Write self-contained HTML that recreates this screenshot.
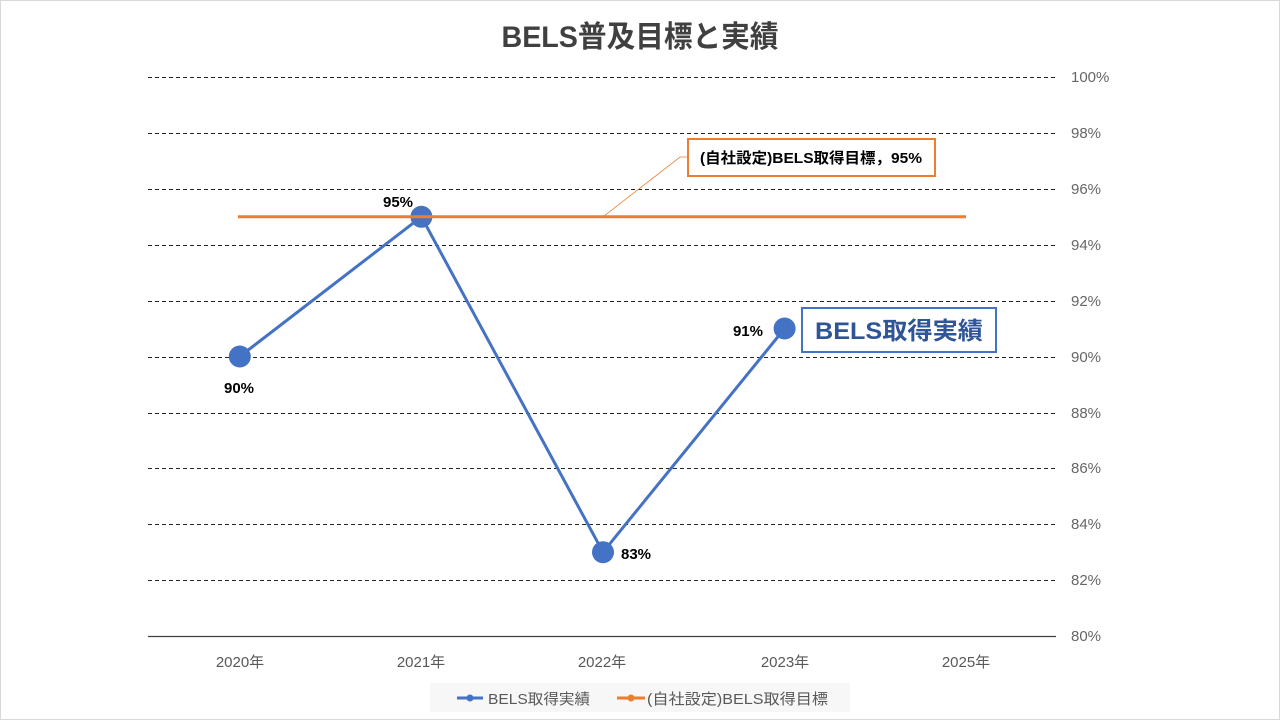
<!DOCTYPE html>
<html>
<head>
<meta charset="utf-8">
<style>
  html,body{margin:0;padding:0;background:#fff;}
  svg{display:block;}
  text{font-family:"Liberation Sans","Noto Sans CJK JP",sans-serif;}
</style>
</head>
<body>
<svg width="1280" height="720" viewBox="0 0 1280 720" xmlns="http://www.w3.org/2000/svg">
  <rect x="0.5" y="0.5" width="1279" height="719" fill="#fff" stroke="#d9d9d9" stroke-width="1"/>
  <!-- Title -->
  <text x="640" y="47" text-anchor="middle" font-size="30" font-weight="bold" fill="#404040" textLength="277" lengthAdjust="spacingAndGlyphs">BELS普及目標と実績</text>

  <!-- Gridlines -->
  <g stroke="#262626" stroke-width="1" stroke-dasharray="4,3">
    <line x1="148" y1="77.5" x2="1056" y2="77.5"/>
    <line x1="148" y1="133.5" x2="1056" y2="133.5"/>
    <line x1="148" y1="189.5" x2="1056" y2="189.5"/>
    <line x1="148" y1="245.5" x2="1056" y2="245.5"/>
    <line x1="148" y1="301.5" x2="1056" y2="301.5"/>
    <line x1="148" y1="357.5" x2="1056" y2="357.5"/>
    <line x1="148" y1="413.5" x2="1056" y2="413.5"/>
    <line x1="148" y1="468.5" x2="1056" y2="468.5"/>
    <line x1="148" y1="524.5" x2="1056" y2="524.5"/>
    <line x1="148" y1="580.5" x2="1056" y2="580.5"/>
  </g>
  <line x1="148" y1="636.5" x2="1056" y2="636.5" stroke="#404040" stroke-width="1.3"/>

  <!-- Y labels -->
  <g font-size="15" fill="#666">
    <text x="1071" y="82">100%</text>
    <text x="1071" y="138">98%</text>
    <text x="1071" y="194">96%</text>
    <text x="1071" y="250">94%</text>
    <text x="1071" y="306">92%</text>
    <text x="1071" y="362">90%</text>
    <text x="1071" y="418">88%</text>
    <text x="1071" y="473">86%</text>
    <text x="1071" y="529">84%</text>
    <text x="1071" y="585">82%</text>
    <text x="1071" y="641">80%</text>
  </g>

  <!-- X labels -->
  <g font-size="15" fill="#595959" text-anchor="middle">
    <text x="240" y="667">2020年</text>
    <text x="421" y="667">2021年</text>
    <text x="602" y="667">2022年</text>
    <text x="785" y="667">2023年</text>
    <text x="966" y="667">2025年</text>
  </g>

  <!-- Blue series -->
  <polyline points="239.8,356.5 421.4,216.8 603,552.2 784.6,328.5" fill="none" stroke="#4472c4" stroke-width="3" stroke-linejoin="round"/>
  <g fill="#4472c4">
    <circle cx="239.8" cy="356.5" r="11"/>
    <circle cx="421.4" cy="216.8" r="11"/>
    <circle cx="603" cy="552.2" r="11"/>
    <circle cx="784.6" cy="328.5" r="11"/>
  </g>

  <!-- Orange target line -->
  <line x1="238" y1="216.8" x2="966" y2="216.8" stroke="#ed7d31" stroke-width="3"/>

  <!-- Leader line -->
  <polyline points="603,216.8 680,157 688,157" fill="none" stroke="#ed7d31" stroke-width="0.8"/>

  <!-- Orange callout -->
  <rect x="688" y="139" width="247" height="37" fill="#fff" stroke="#ed7d31" stroke-width="2"/>
  <text x="700" y="163" font-size="15" font-weight="bold" fill="#000" textLength="222" lengthAdjust="spacingAndGlyphs">(自社設定)BELS取得目標，95%</text>

  <!-- Data labels -->
  <g font-size="15" font-weight="bold" fill="#000">
    <text x="398" y="207" text-anchor="middle">95%</text>
    <text x="239" y="393" text-anchor="middle">90%</text>
    <text x="621" y="559">83%</text>
    <text x="763" y="336" text-anchor="end">91%</text>
  </g>

  <!-- Blue callout -->
  <rect x="802" y="308" width="194" height="44" fill="#fff" stroke="#4472c4" stroke-width="2"/>
  <text x="815" y="339" font-size="24" font-weight="bold" fill="#2f5597" textLength="168" lengthAdjust="spacingAndGlyphs">BELS取得実績</text>

  <!-- Legend -->
  <rect x="430" y="683" width="420" height="29" fill="#f7f7f7"/>
  <line x1="457" y1="698" x2="483" y2="698" stroke="#4472c4" stroke-width="3"/>
  <circle cx="470" cy="698" r="3.5" fill="#4472c4"/>
  <text x="488" y="704" font-size="15" fill="#595959" textLength="102" lengthAdjust="spacingAndGlyphs">BELS取得実績</text>
  <line x1="617" y1="698" x2="645" y2="698" stroke="#ed7d31" stroke-width="3"/>
  <circle cx="631" cy="698" r="3.5" fill="#ed7d31"/>
  <text x="647" y="704" font-size="15" fill="#595959" textLength="181" lengthAdjust="spacingAndGlyphs">(自社設定)BELS取得目標</text>
</svg>
</body>
</html>
